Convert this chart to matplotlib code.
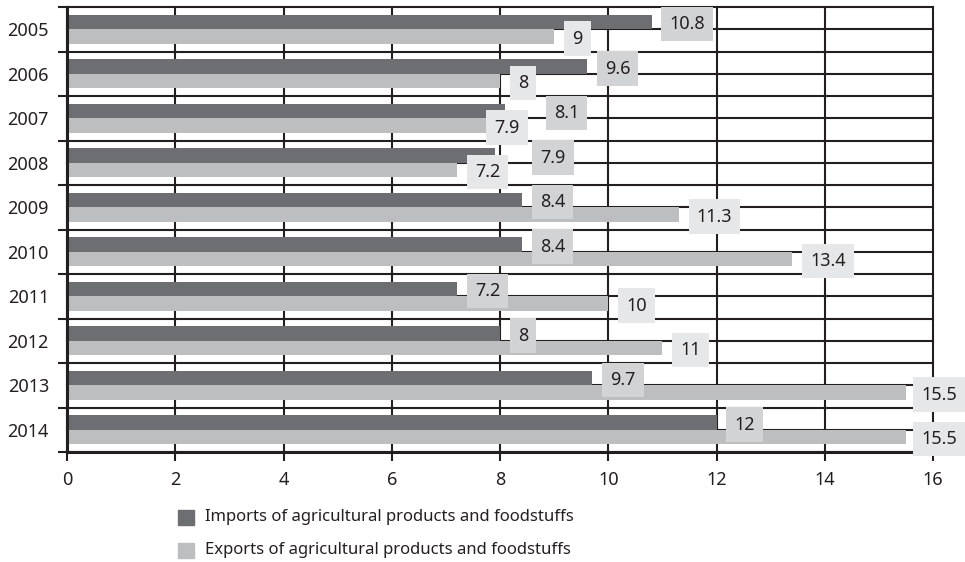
import matplotlib.pyplot as plt
from matplotlib.patches import Rectangle
import numpy as np

plt.rcParams['font.family'] = ['Noto Sans', 'DejaVu Sans']

years = ['2005', '2006', '2007', '2008', '2009', '2010', '2011', '2012', '2013', '2014']
imports = [10.8, 9.6, 8.1, 7.9, 8.4, 8.4, 7.2, 8, 9.7, 12]
exports = [9, 8, 7.9, 7.2, 11.3, 13.4, 10, 11, 15.5, 15.5]
xticks = [0, 2, 4, 6, 8, 10, 12, 14, 16]
series_names = ['Imports of agricultural products and foodstuffs',
                'Exports of agricultural products and foodstuffs']

# labels pushed sideways (in points) so the crowded ones don't collide
imp_shift = {'2007': 22, '2008': 20}
exp_shift = {'2007': -13, '2013': -2, '2014': -2}

dark = '#6d6e71'
light = '#bcbec0'
dark_box = '#d1d3d4'
light_box = '#e6e7e8'
ink = '#231f20'

W, H = 965, 562
fig = plt.figure(figsize=(W / 100, H / 100), dpi=100)
ax = fig.add_axes([67 / W, 110 / H, 866 / W, 445 / H])

n = len(years)
y = np.arange(n)
h = 0.326

# grid: every category edge and the line between the two bars
for yy in np.arange(-0.5, n, 0.5):
    ax.axhline(yy, color=ink, lw=1.5, zorder=1, clip_on=False)
for xx in xticks:
    ax.axvline(xx, color=ink, lw=1.5, zorder=1, clip_on=False)

ax.barh(y - h / 2, imports, height=h, color=dark, zorder=2)
ax.barh(y + h / 2, exports, height=h, color=light, zorder=2)

def label(vals, offs, fc, shift):
    for yi, v, yr in zip(y, vals, years):
        ax.annotate(f'{v:g}', xy=(v, yi + offs), xytext=(13 + shift.get(yr, 0), -1.5),
                    textcoords='offset points', ha='left', va='center',
                    fontsize=13, color=ink, zorder=6, annotation_clip=False,
                    bbox=dict(boxstyle='square,pad=0.45', fc=fc, ec='none'))

label(imports, -h / 2, dark_box, imp_shift)
label(exports, h / 2, light_box, exp_shift)

ax.set_xlim(0, 16)
ax.set_ylim(n - 0.5, -0.5)
ax.set_xticks(xticks)
ax.set_xticklabels([str(t) for t in xticks])
ax.set_yticks(np.arange(-0.5, n, 1.0))
ax.set_yticklabels([])
ax.set_yticks(y, minor=True)
ax.set_yticklabels(years, minor=True)
ax.tick_params(axis='y', which='major', length=6.5, width=1.5, color=ink)
ax.tick_params(axis='y', which='minor', length=0, pad=13, labelsize=13, labelcolor=ink)
ax.tick_params(axis='x', length=6.5, width=1.5, color=ink, pad=7,
               labelsize=13, labelcolor=ink)

for s in ['top', 'right']:
    ax.spines[s].set_visible(False)
for s in ['left', 'bottom']:
    ax.spines[s].set_linewidth(2.2)
    ax.spines[s].set_color(ink)
    ax.spines[s].set_zorder(3)

# legend below the plot
for i, (name, c) in enumerate(zip(series_names, [dark, light])):
    cy = 517 + i * 33
    fig.patches.append(Rectangle((178 / W, (H - cy - 8) / H), 16 / W, 15 / H,
                                 transform=fig.transFigure, color=c))
    fig.text(205 / W, (H - cy) / H, name, fontsize=12, color=ink,
             ha='left', va='center')

fig.savefig('out.png', dpi=100)
